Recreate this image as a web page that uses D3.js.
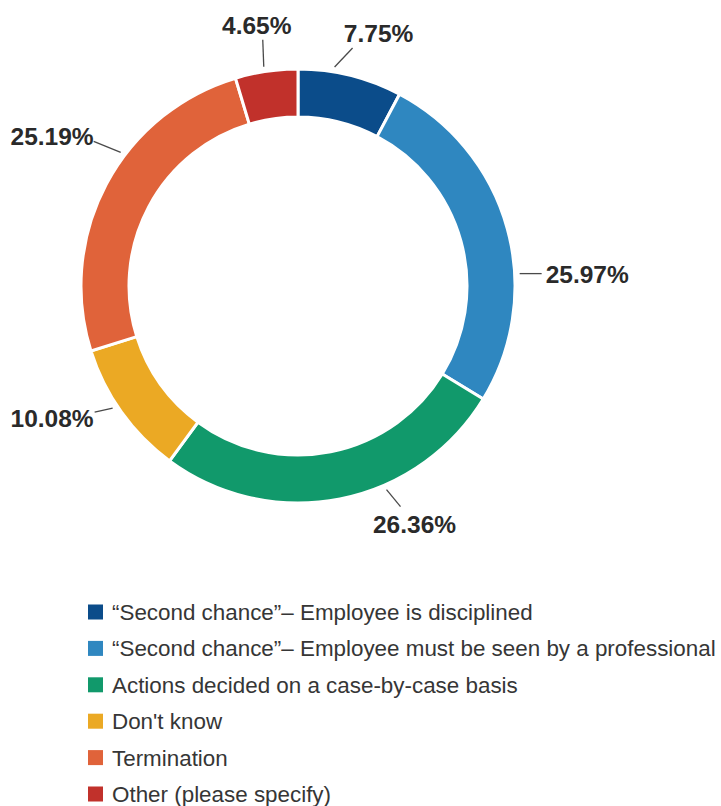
<!DOCTYPE html>
<html>
<head>
<meta charset="utf-8">
<script src="https://cdn.jsdelivr.net/npm/d3@7"></script>
<style>
  html, body { margin: 0; padding: 0; background: #ffffff; }
  svg { display: block; }
</style>
</head>
<body>
<svg id="chart" width="721" height="806"></svg>
<script>
// Survey responses: share of respondents per action taken
const categories = [
  "\u201CSecond chance\u201D\u2013 Employee is disciplined",
  "\u201CSecond chance\u201D\u2013 Employee must be seen by a professional",
  "Actions decided on a case-by-case basis",
  "Don't know",
  "Termination",
  "Other (please specify)"
];
const values = [7.75, 25.97, 26.36, 10.08, 25.19, 4.65];
const colors = ["#0b4c8a", "#2f87c0", "#11996b", "#eba924", "#e0633a", "#c1312b"];

// Label placement: where the leader leaves the slice (fraction of slice span),
// leader vector, text offset from the leader end and text anchor.
const labelLayout = [
  { t: 0.34, ldx: 18,  ldy: -19, tdx: 26,  tdy: -6,  anchor: "middle" },
  { t: 0.63, ldx: 22,  ldy: 0,   tdx: 4,   tdy: 9,   anchor: "start" },
  { t: 0.37, ldx: 14,  ldy: 17,  tdx: 14,  tdy: 26,  anchor: "middle" },
  { t: 0.56, ldx: -18, ldy: 4,   tdx: -1,  tdy: 15,  anchor: "end" },
  { t: 0.60, ldx: -27, ldy: -11, tdx: 0,   tdy: 4,   anchor: "end" },
  { t: 0.47, ldx: -1,  ldy: -27, tdx: -6,  tdy: -6,  anchor: "middle" }
];

const svg = d3.select("#chart");
const cx = 298, cy = 286;
const outerR = 217, innerR = 169;

const data = categories.map((c, i) => ({ name: c, value: values[i], color: colors[i] }));

const pie = d3.pie().value(d => d.value).sort(null);
const arcs = pie(data);
const arc = d3.arc().innerRadius(innerR).outerRadius(outerR);

const g = svg.append("g").attr("transform", `translate(${cx},${cy})`);

g.selectAll("path.slice")
  .data(arcs)
  .join("path")
  .attr("class", "slice")
  .attr("d", arc)
  .attr("fill", d => d.data.color)
  .attr("stroke", "#ffffff")
  .attr("stroke-width", 3);

// Leader lines and percentage labels
const fmt = d3.format(".2f");
arcs.forEach((a, i) => {
  const L = labelLayout[i];
  const ang = a.startAngle + (a.endAngle - a.startAngle) * L.t;
  const r0 = outerR + 5;
  const x0 = r0 * Math.sin(ang), y0 = -r0 * Math.cos(ang);
  const x1 = x0 + L.ldx, y1 = y0 + L.ldy;
  g.append("line")
    .attr("x1", x0).attr("y1", y0)
    .attr("x2", x1).attr("y2", y1)
    .attr("stroke", "#4a4a4a")
    .attr("stroke-width", 1.3);
  g.append("text")
    .attr("x", x1 + L.tdx).attr("y", y1 + L.tdy)
    .attr("text-anchor", L.anchor)
    .attr("font-family", "'Liberation Sans', Arial, sans-serif")
    .attr("font-weight", "bold")
    .attr("font-size", 24.5)
    .attr("fill", "#2a2a2a")
    .text(fmt(a.data.value) + "%");
});

// Legend
const legendY = d3.scalePoint()
  .domain(categories)
  .range([612, 794]);

const legend = svg.append("g").selectAll("g")
  .data(data)
  .join("g")
  .attr("transform", d => `translate(0,${legendY(d.name)})`);

legend.append("rect")
  .attr("x", 88).attr("y", -7.5)
  .attr("width", 15).attr("height", 15)
  .attr("fill", d => d.color);

legend.append("text")
  .attr("x", 112).attr("y", 8)
  .attr("font-family", "'Liberation Sans', Arial, sans-serif")
  .attr("font-size", 22.4)
  .attr("fill", "#363636")
  .text(d => d.name);
</script>
</body>
</html>
